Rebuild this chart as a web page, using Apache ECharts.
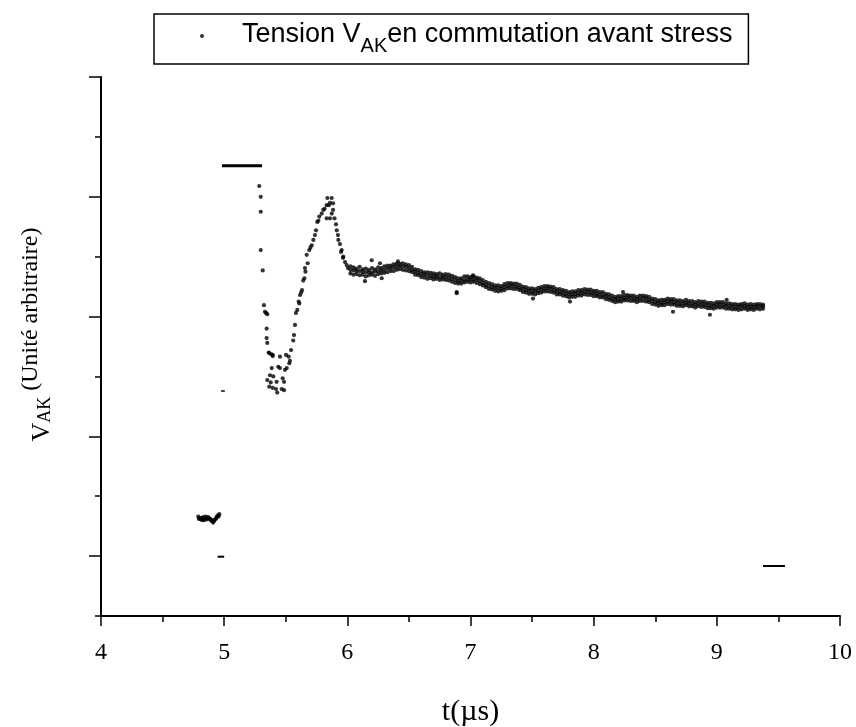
<!DOCTYPE html>
<html>
<head>
<meta charset="utf-8">
<script src="https://cdn.jsdelivr.net/npm/echarts@6/dist/echarts.min.js"></script>
<style>
html,body{margin:0;padding:0;background:#fff;}
#chart{width:856px;height:727px;}
</style>
</head>
<body>
<div id="chart"></div>
<script>
// ---------- data (t in µs, V_AK in arbitrary units) ----------
const seriesName = 'Tension VAK en commutation avant stress';
const xTicks = [4, 5, 6, 7, 8, 9, 10];

// before switching
const tPre = [4.79,4.80,4.81,4.82,4.83,4.84,4.85,4.86,4.87,4.88,4.89,4.90,4.91,4.92,4.93,4.94,4.95,4.96,
              4.795,4.815,4.835,4.855,4.875,4.895,4.915,4.935,4.955];
const vPre = [1.66,1.63,1.62,1.60,1.65,1.62,1.66,1.64,1.65,1.63,1.62,1.60,1.56,1.60,1.62,1.66,1.68,1.70,
              1.62,1.64,1.60,1.61,1.62,1.59,1.58,1.63,1.66];

// switching transient (fall, minimum, overshoot, decay)
const tTrans = [5.285,5.297,5.297,5.297,5.313,5.323,5.331,5.340,5.350,5.345,5.345,5.350,5.362,5.366,5.383,5.394,5.394,
  5.453,5.502,5.524,5.534,5.529,5.439,5.453,5.386,5.372,5.399,5.508,5.494,5.350,5.378,5.426,5.475,5.486,5.366,5.394,
  5.421,5.467,5.431,5.486,5.543,5.561,5.567,5.575,5.583,5.594,5.605,5.610,5.616,5.625,5.632,5.642,5.651,5.656,5.660,
  5.670,5.678,5.691,5.700,5.711,5.724,5.737,5.746,5.756,5.765,5.772,5.792,5.805,5.815,5.832,5.859,5.832,5.859,5.873,
  5.838,5.873,5.851,5.884,5.884,5.896,5.908,5.914,5.924,5.927,5.940,5.949,5.954,5.965,5.967,5.981,5.995,6.005];
const vTrans = [7.18,7.00,6.75,6.11,5.77,5.19,5.08,5.06,5.04,4.80,4.64,4.56,4.40,4.39,4.37,4.36,4.34,
  4.33,4.36,4.33,4.26,4.22,4.16,4.14,4.14,4.02,4.00,4.14,4.11,3.94,3.90,3.91,3.97,3.91,3.83,3.81,
  3.79,3.79,3.73,3.77,4.44,4.60,4.69,4.86,5.06,5.11,5.25,5.22,5.36,5.40,5.44,5.60,5.64,5.81,5.75,
  6.03,5.89,6.11,6.15,6.19,6.28,6.36,6.44,6.58,6.60,6.67,6.72,6.78,6.80,6.86,6.90,6.64,6.64,6.72,
  6.98,6.98,6.86,6.89,6.78,6.64,6.54,6.44,6.36,6.28,6.21,6.08,6.11,5.98,6.00,5.91,5.86,5.81];

// slowly decaying plateau: time base and three rows of the noisy band
const tFlat = [6.025,6.05,6.075,6.1,6.125,6.15,6.175,6.2,6.225,6.25,
  6.275,6.3,6.325,6.35,6.375,6.4,6.425,6.45,6.475,6.5,
  6.525,6.55,6.575,6.6,6.625,6.65,6.675,6.7,6.725,6.75,
  6.775,6.8,6.825,6.85,6.875,6.9,6.925,6.95,6.975,7.0,
  7.025,7.05,7.075,7.1,7.125,7.15,7.175,7.2,7.225,7.25,
  7.275,7.3,7.325,7.35,7.375,7.4,7.425,7.45,7.475,7.5,
  7.525,7.55,7.575,7.6,7.625,7.65,7.675,7.7,7.725,7.75,
  7.775,7.8,7.825,7.85,7.875,7.9,7.925,7.95,7.975,8.0,
  8.025,8.05,8.075,8.1,8.125,8.15,8.175,8.2,8.225,8.25,
  8.275,8.3,8.325,8.35,8.375,8.4,8.425,8.45,8.475,8.5,
  8.525,8.55,8.575,8.6,8.625,8.65,8.675,8.7,8.725,8.75,
  8.775,8.8,8.825,8.85,8.875,8.9,8.925,8.95,8.975,9.0,
  9.025,9.05,9.075,9.1,9.125,9.15,9.175,9.2,9.225,9.25,
  9.275,9.3,9.325,9.35,9.375];
const vFlatUpper = [5.84,5.82,5.80,5.83,5.79,5.80,5.78,5.81,5.79,5.82,
  5.81,5.84,5.85,5.85,5.87,5.88,5.88,5.89,5.87,5.86,
  5.83,5.79,5.78,5.76,5.74,5.74,5.73,5.72,5.71,5.72,
  5.70,5.71,5.70,5.68,5.66,5.64,5.64,5.67,5.67,5.66,
  5.67,5.65,5.64,5.61,5.58,5.56,5.54,5.52,5.52,5.51,
  5.54,5.56,5.56,5.55,5.55,5.53,5.50,5.49,5.47,5.47,
  5.46,5.48,5.49,5.51,5.51,5.50,5.49,5.46,5.46,5.44,
  5.43,5.41,5.42,5.42,5.44,5.44,5.46,5.45,5.45,5.43,
  5.43,5.41,5.41,5.38,5.37,5.35,5.33,5.34,5.34,5.36,
  5.36,5.35,5.35,5.33,5.35,5.35,5.34,5.33,5.30,5.29,
  5.27,5.28,5.28,5.30,5.29,5.29,5.27,5.27,5.26,5.28,
  5.26,5.26,5.24,5.26,5.25,5.25,5.23,5.23,5.22,5.24,
  5.24,5.24,5.22,5.22,5.21,5.21,5.20,5.21,5.22,5.20,
  5.21,5.20,5.21,5.21,5.20];
const vFlatMid = [5.78,5.77,5.76,5.76,5.75,5.74,5.74,5.74,5.75,5.76,
  5.77,5.78,5.80,5.81,5.82,5.83,5.84,5.84,5.83,5.81,
  5.78,5.75,5.73,5.71,5.70,5.69,5.68,5.67,5.67,5.66,
  5.66,5.66,5.65,5.63,5.61,5.59,5.60,5.61,5.62,5.62,
  5.62,5.61,5.59,5.56,5.53,5.51,5.49,5.48,5.47,5.47,
  5.49,5.51,5.52,5.51,5.50,5.48,5.46,5.44,5.43,5.42,
  5.42,5.43,5.45,5.46,5.47,5.46,5.44,5.42,5.41,5.40,
  5.38,5.37,5.37,5.38,5.39,5.40,5.41,5.41,5.40,5.39,
  5.38,5.37,5.36,5.34,5.32,5.30,5.29,5.29,5.30,5.31,
  5.32,5.31,5.30,5.29,5.30,5.31,5.30,5.28,5.26,5.24,
  5.23,5.23,5.24,5.25,5.25,5.24,5.23,5.22,5.22,5.23,
  5.22,5.21,5.20,5.21,5.21,5.20,5.19,5.18,5.18,5.19,
  5.20,5.19,5.18,5.17,5.17,5.16,5.16,5.17,5.17,5.16,
  5.16,5.16,5.17,5.17,5.17];
const vFlatLower = [5.72,5.70,5.71,5.69,5.70,5.67,5.69,5.70,5.68,5.71,
  5.72,5.73,5.74,5.76,5.76,5.78,5.79,5.78,5.77,5.76,
  5.74,5.70,5.69,5.66,5.65,5.63,5.64,5.62,5.63,5.61,
  5.62,5.61,5.60,5.58,5.56,5.55,5.55,5.57,5.58,5.57,
  5.58,5.56,5.54,5.52,5.49,5.46,5.45,5.43,5.42,5.43,
  5.44,5.47,5.47,5.46,5.46,5.44,5.41,5.40,5.38,5.38,
  5.37,5.39,5.40,5.42,5.42,5.41,5.40,5.37,5.37,5.35,
  5.34,5.32,5.33,5.33,5.35,5.35,5.37,5.36,5.36,5.34,
  5.34,5.32,5.32,5.29,5.28,5.26,5.24,5.25,5.25,5.27,
  5.27,5.26,5.26,5.24,5.26,5.26,5.25,5.24,5.21,5.20,
  5.18,5.19,5.19,5.21,5.20,5.20,5.18,5.18,5.17,5.19,
  5.17,5.17,5.15,5.17,5.16,5.16,5.14,5.14,5.13,5.15,
  5.15,5.15,5.13,5.13,5.12,5.12,5.11,5.12,5.13,5.11,
  5.12,5.11,5.13,5.12,5.13];

// isolated stray points of the plateau
const tOut = [6.143,6.279,6.888,6.888,7.507,7.808,8.944,8.644,6.265,6.198,6.411,7.02,8.238,9.08];
const vOut = [5.59,5.64,5.41,5.39,5.30,5.25,5.03,5.08,5.89,5.94,5.92,5.69,5.41,5.28];

// saturated / clipped acquisitions (horizontal dashes)
const dashStart = [4.982, 4.975, 4.947, 9.375];
const dashEnd   = [5.307, 5.005, 5.000, 9.553];
const dashLevel = [7.518, 3.756, 0.990, 0.835];

// ---------- build ----------
const pts = [];
function addPairs(t, v) { const n = Math.min(t.length, v.length); for (let i = 0; i < n; i++) pts.push([t[i], v[i]]); }
addPairs(tPre, vPre);
addPairs(tTrans, vTrans);
addPairs(tFlat, vFlatUpper);
addPairs(tFlat, vFlatMid);
addPairs(tFlat, vFlatLower);
addPairs(tOut, vOut);

const dashWidths = [3, 1.5, 2, 2];
const dashSeries = dashStart.map((s, i) => ({
  type: 'line', silent: true, symbol: 'none', animation: false,
  data: [[s, dashLevel[i]], [dashEnd[i], dashLevel[i]]],
  lineStyle: { color: '#000', width: dashWidths[i] }
}));

const serif = '"Liberation Serif", "Times New Roman", Times, serif';
const sans = '"Liberation Sans", Arial, Helvetica, sans-serif';

const chart = echarts.init(document.getElementById('chart'), null, { renderer: 'canvas' });
chart.setOption({
  animation: false,
  backgroundColor: '#fff',
  grid: { left: 101, right: 16, top: 77, bottom: 111, containLabel: false, outerBoundsMode: 'none' },
  legend: {
    data: [seriesName],
    left: 154, top: 14,
    padding: [7, 16, 8, 46],
    borderColor: '#000', borderWidth: 1.5,
    itemWidth: 70, itemHeight: 4,
    selectedMode: false,
    formatter: () => '{a|Tension V}{s|AK}{a|en commutation avant stress}',
    textStyle: {
      color: '#000', fontFamily: sans, fontSize: 27,
      rich: {
        a: { fontFamily: sans, fontSize: 27, lineHeight: 30, verticalAlign: 'top', color: '#000' },
        s: { fontFamily: sans, fontSize: 20, lineHeight: 22, padding: [15, 0, 0, 0], verticalAlign: 'top', color: '#000' }
      }
    }
  },
  xAxis: {
    type: 'value', min: xTicks[0], max: xTicks[xTicks.length - 1], interval: 1,
    name: 't(µs)', nameLocation: 'middle', nameGap: 81,
    nameTextStyle: { fontFamily: serif, fontSize: 30, color: '#000' },
    axisLine: { show: true, lineStyle: { color: '#000', width: 2 } },
    axisTick: { show: true, length: 10, lineStyle: { color: '#000', width: 1.5 } },
    minorTick: { show: true, splitNumber: 2, length: 6, lineStyle: { color: '#000', width: 1.5 } },
    axisLabel: { margin: 25, fontFamily: serif, fontSize: 24, color: '#000' },
    splitLine: { show: false }
  },
  yAxis: [
    {
      type: 'value', min: 0, max: 9, position: 'left', offset: 0,
      name: '{v|V}{s|AK}{r| (Unité arbitraire)}',
      nameLocation: 'middle', nameRotate: 90, nameGap: 54,
      nameTextStyle: {
        color: '#000', fontFamily: serif, fontSize: 24, padding: [0, 0, 0, 24],
        rich: {
          v: { fontFamily: serif, fontSize: 26, lineHeight: 28, padding: [10, 0, 0, 0], verticalAlign: 'top', color: '#000' },
          s: { fontFamily: serif, fontSize: 18, lineHeight: 20, padding: [17, 0, 0, 0], verticalAlign: 'top', color: '#000' },
          r: { fontFamily: serif, fontSize: 24, lineHeight: 28, verticalAlign: 'top', color: '#000' }
        }
      },
      axisLine: { show: true, lineStyle: { color: '#000', width: 2 } },
      axisTick: { show: true, length: 6, customValues: [0, 2, 4, 6, 8], lineStyle: { color: '#000', width: 1.5 } },
      axisLabel: { show: false },
      splitLine: { show: false }
    },
    {
      type: 'value', min: 0, max: 9, position: 'left', offset: 0,
      axisLine: { show: false },
      axisTick: { show: true, length: 12, customValues: [1, 3, 5, 7, 9], lineStyle: { color: '#000', width: 1.5 } },
      axisLabel: { show: false },
      splitLine: { show: false }
    }
  ],
  series: [
    {
      name: seriesName, type: 'scatter', yAxisIndex: 0,
      symbol: 'circle', symbolSize: 4.2,
      itemStyle: { color: '#000' },
      data: pts
    }
  ].concat(dashSeries)
});
</script>
</body>
</html>
